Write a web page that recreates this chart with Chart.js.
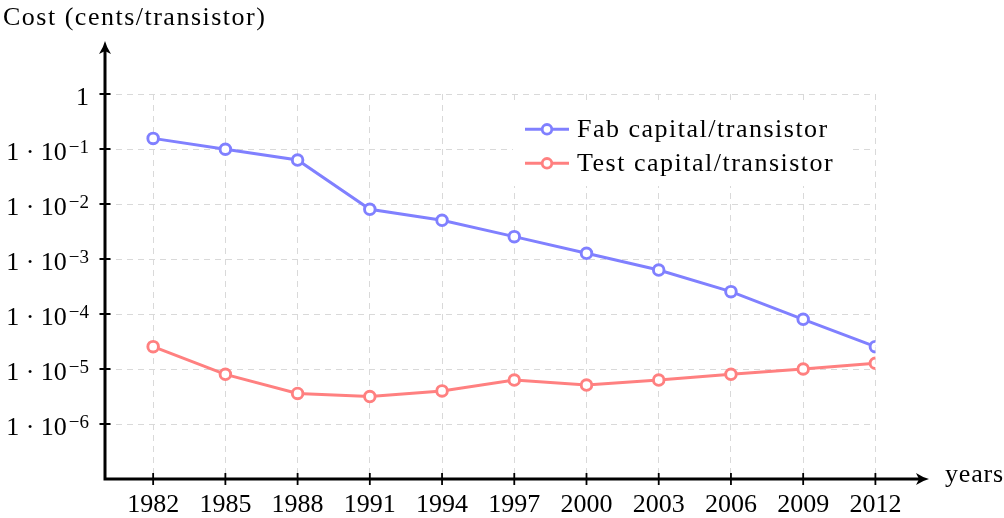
<!DOCTYPE html>
<html>
<head>
<meta charset="utf-8">
<script src="https://cdn.jsdelivr.net/npm/chart.js@4/dist/chart.umd.min.js"></script>
<style>
  html, body { margin: 0; padding: 0; background: #fff; }
  #chart { display: block; }
</style>
</head>
<body>
<canvas id="chart" width="1004" height="518"></canvas>
<script>
const years = [1982, 1985, 1988, 1991, 1994, 1997, 2000, 2003, 2006, 2009, 2012];
const fabCost = [0.156, 0.099, 0.063, 0.008, 0.00505, 0.00255, 0.00127, 0.00063, 0.000255, 0.00008, 0.0000255];
const testCost = [0.0000255, 0.000008, 0.0000036, 0.00000315, 0.000004, 0.0000063, 0.0000051, 0.0000063, 0.000008, 0.00001, 0.0000127];
const seriesNames = ["Fab capital/transistor", "Test capital/transistor"];
const yTicks = [1e-6, 1e-5, 1e-4, 1e-3, 1e-2, 1e-1, 1];
const yTickLabels = [["1 · 10", "−6"], ["1 · 10", "−5"], ["1 · 10", "−4"], ["1 · 10", "−3"], ["1 · 10", "−2"], ["1 · 10", "−1"], ["1", ""]];
const yTitle = "Cost (cents/transistor)";
const xTitle = "years";

const BLUE = "#8080ff";
const RED = "#ff8080";
const FONT = '"Liberation Serif", "Times New Roman", serif';

const $ = (id) => document.getElementById(id);
const pts = (ys) => years.map((x, i) => ({ x, y: ys[i] }));

// arrowhead, tip at (x, y), pointing along angle a
function arrow(ctx, x, y, a) {
  ctx.save();
  ctx.translate(x, y);
  ctx.rotate(a);
  ctx.beginPath();
  ctx.moveTo(0, 0);
  ctx.quadraticCurveTo(-6, -1.5, -13, -6);
  ctx.lineTo(-10, 0);
  ctx.lineTo(-13, 6);
  ctx.quadraticCurveTo(-6, 1.5, 0, 0);
  ctx.closePath();
  ctx.fill();
  ctx.restore();
}

const deco = {
  id: "deco",
  afterDatasetsDraw(chart) {
    const { ctx, chartArea: ca, scales } = chart;
    const xs = scales.x, ys = scales.y;
    const ax = ca.left, ay = ca.bottom;
    ctx.save();
    ctx.fillStyle = "#000";
    ctx.strokeStyle = "#000";

    // axis lines + arrows
    ctx.lineWidth = 3;
    ctx.beginPath();
    ctx.moveTo(ax, ay + 1.5);
    ctx.lineTo(ax, 50);
    ctx.moveTo(ax - 1.5, ay);
    ctx.lineTo(920, ay);
    ctx.stroke();
    arrow(ctx, ax, 41, -Math.PI / 2);
    arrow(ctx, 929, ay, 0);

    // tick marks
    ctx.lineWidth = 1.8;
    ctx.beginPath();
    years.forEach((v) => {
      const px = xs.getPixelForValue(v);
      ctx.moveTo(px, ay - 6);
      ctx.lineTo(px, ay + 6);
    });
    yTicks.forEach((v) => {
      const py = ys.getPixelForValue(v);
      ctx.moveTo(ax - 5.5, py);
      ctx.lineTo(ax + 5.5, py);
    });
    ctx.stroke();

    // x tick labels
    ctx.font = "26px " + FONT;
    ctx.textAlign = "center";
    ctx.textBaseline = "alphabetic";
    years.forEach((v) => ctx.fillText(String(v), xs.getPixelForValue(v), ay + 33));

    // y tick labels with superscript exponent
    ctx.textAlign = "left";
    yTicks.forEach((v, i) => {
      const py = ys.getPixelForValue(v);
      const [base, exp] = yTickLabels[i];
      ctx.font = "19px " + FONT;
      const ew = exp ? ctx.measureText(exp).width : 0;
      ctx.font = "26px " + FONT;
      const bw = ctx.measureText(base).width;
      const right = 89;
      const gap = exp ? 2 : 0;
      const x0 = right - ew - gap - bw;
      ctx.fillText(base, x0, py + 10.5);
      if (exp) {
        ctx.font = "19px " + FONT;
        ctx.fillText(exp, x0 + bw + gap, py + 4);
      }
    });

    // axis titles
    ctx.font = "26px " + FONT;
    ctx.letterSpacing = "1.5px";
    ctx.fillText(yTitle, 3, 25);
    ctx.letterSpacing = "0.8px";
    ctx.fillText(xTitle, 945, ay + 3);

    // legend
    ctx.fillStyle = "#fff";
    ctx.fillRect(513, 104, 337, 82);
    const rows = [129.3, 163.3];
    chart.data.datasets.forEach((ds, i) => {
      const y = rows[i];
      ctx.strokeStyle = ds.borderColor;
      ctx.lineWidth = 3;
      ctx.beginPath();
      ctx.moveTo(525, y);
      ctx.lineTo(569, y);
      ctx.stroke();
      ctx.beginPath();
      ctx.arc(547, y, 4.8, 0, Math.PI * 2);
      ctx.fillStyle = "#fff";
      ctx.fill();
      ctx.lineWidth = 2.8;
      ctx.stroke();
      ctx.fillStyle = "#000";
      ctx.letterSpacing = "1.5px";
      ctx.fillText(ds.label, 577, y + 8);
    });
    ctx.letterSpacing = "0px";
    ctx.restore();
  },
};

const line = (label, ys, color) => ({
  label,
  data: pts(ys),
  borderColor: color,
  borderWidth: 3,
  pointRadius: 5.3,
  pointBorderWidth: 2.9,
  pointBackgroundColor: "#fff",
  pointBorderColor: color,
  tension: 0,
});

new Chart($("chart").getContext("2d"), {
  type: "line",
  data: {
    datasets: [
      line(seriesNames[0], fabCost, BLUE),
      line(seriesNames[1], testCost, RED),
    ],
  },
  plugins: [deco],
  options: {
    animation: false,
    responsive: false,
    layout: { padding: { top: 94, right: 128.6, left: 0, bottom: 0 } },
    plugins: { legend: { display: false }, tooltip: { enabled: false } },
    scales: {
      x: {
        type: "linear",
        min: 1980,
        max: 2012,
        afterBuildTicks: (s) => { s.ticks = years.map((v) => ({ value: v })); },
        afterFit: (s) => { s.height = 39; },
        ticks: { display: false },
        grid: { color: "#d9d9d9", lineWidth: 1, drawTicks: false },
        border: { display: false, dash: [6, 5] },
      },
      y: {
        type: "logarithmic",
        min: 1e-7,
        max: 1,
        afterBuildTicks: (s) => { s.ticks = yTicks.map((v) => ({ value: v })); },
        afterFit: (s) => { s.width = 105; },
        ticks: { display: false },
        grid: { color: "#d9d9d9", lineWidth: 1, drawTicks: false },
        border: { display: false, dash: [6, 5] },
      },
    },
  },
});
</script>
</body>
</html>
